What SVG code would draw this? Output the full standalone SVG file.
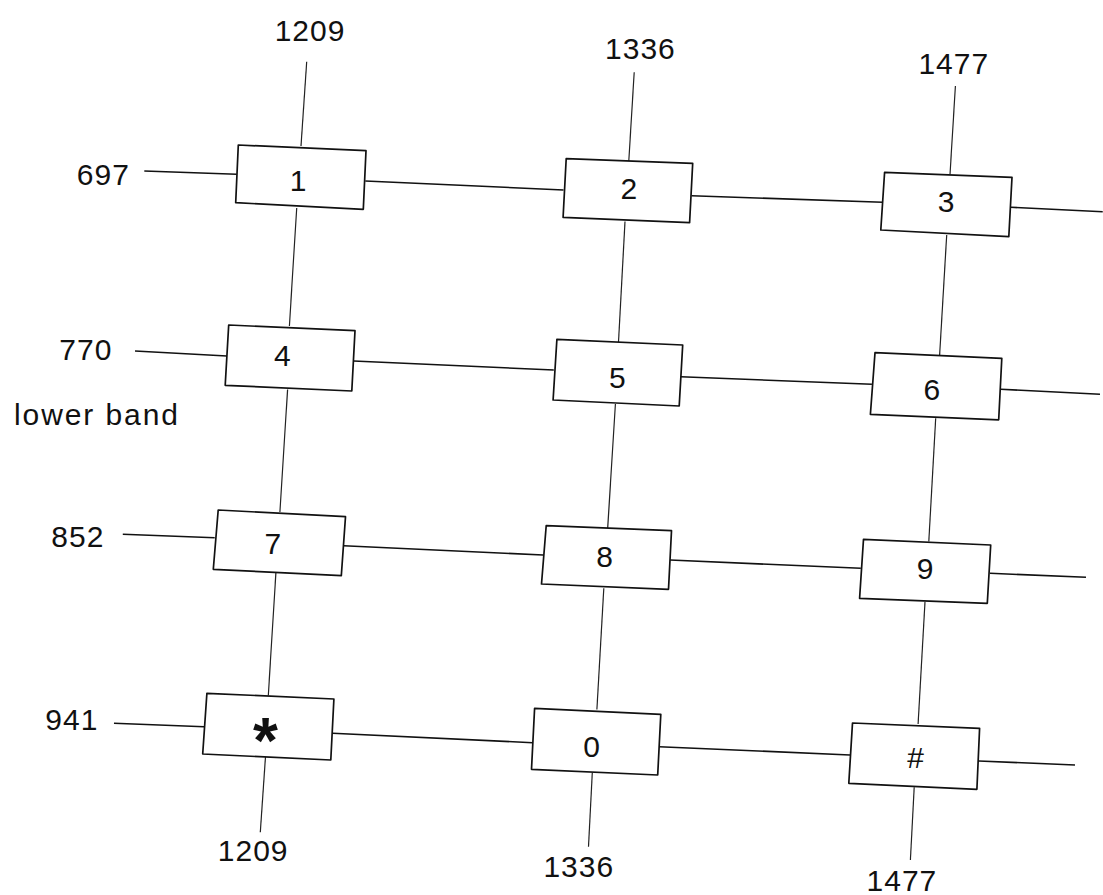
<svg xmlns="http://www.w3.org/2000/svg" width="1103" height="895" viewBox="0 0 1103 895">
<style>
.bg{fill:#ffffff}
.key{fill:#ffffff;stroke:#111;stroke-width:1.7;stroke-linejoin:round}
.h{stroke:#111;stroke-width:1.6;fill:none}
.v{stroke:#222;stroke-width:1.2;fill:none}
.t{font-family:"Liberation Sans",Arial,sans-serif;font-size:30px;fill:#111;text-anchor:middle}
.lbl{font-family:"Liberation Sans",Arial,sans-serif;font-size:30px;fill:#111;text-anchor:middle;letter-spacing:1px}
</style>
<rect class="bg" x="0" y="0" width="1103" height="895"/>
<g id="connectors">
<line class="h" x1="144.3" y1="171" x2="236.7" y2="174.3"/>
<line class="h" x1="365.3" y1="181" x2="563.5" y2="190"/>
<line class="h" x1="691.5" y1="195.7" x2="882.7" y2="202.3"/>
<line class="h" x1="1011" y1="207.3" x2="1102.7" y2="211.7"/>
<line class="h" x1="135" y1="351" x2="226.9" y2="356"/>
<line class="h" x1="353.6" y1="361" x2="553.8" y2="370"/>
<line class="h" x1="680.8" y1="376.7" x2="871.9" y2="384.3"/>
<line class="h" x1="1000.7" y1="389.3" x2="1100" y2="394.3"/>
<line class="h" x1="122.8" y1="534.3" x2="214.7" y2="537.7"/>
<line class="h" x1="343.7" y1="545.7" x2="543.1" y2="555"/>
<line class="h" x1="670" y1="560" x2="860.8" y2="568.3"/>
<line class="h" x1="990" y1="573.3" x2="1086" y2="577.3"/>
<line class="h" x1="114" y1="723.3" x2="204.1" y2="726.7"/>
<line class="h" x1="332.5" y1="733.3" x2="532.7" y2="742.7"/>
<line class="h" x1="659.2" y1="746.7" x2="850" y2="755"/>
<line class="h" x1="978.8" y1="761" x2="1075" y2="765"/>
<line class="v" x1="306.7" y1="61.7" x2="301" y2="146"/>
<line class="v" x1="296.7" y1="208" x2="289.4" y2="326"/>
<line class="v" x1="287.6" y1="389.5" x2="279.9" y2="512"/>
<line class="v" x1="276" y1="571" x2="268.3" y2="695.5"/>
<line class="v" x1="265.5" y1="756.5" x2="260.3" y2="832.3"/>
<line class="v" x1="634.2" y1="72.3" x2="628.8" y2="161"/>
<line class="v" x1="625" y1="221.5" x2="618.5" y2="342"/>
<line class="v" x1="615.4" y1="404" x2="607.7" y2="528"/>
<line class="v" x1="603.8" y1="588.3" x2="596.9" y2="709.5"/>
<line class="v" x1="592.3" y1="772.5" x2="588.5" y2="846.7"/>
<line class="v" x1="955.4" y1="86" x2="950" y2="174.5"/>
<line class="v" x1="946.7" y1="235" x2="939.6" y2="355.5"/>
<line class="v" x1="935.7" y1="418.3" x2="928.8" y2="541.5"/>
<line class="v" x1="925" y1="601.7" x2="918.1" y2="724"/>
<line class="v" x1="914.2" y1="787.3" x2="910.4" y2="860"/>
</g>
<g id="labels">
<text class="lbl" x="310" y="40.7">1209</text>
<text class="lbl" x="640.4" y="59">1336</text>
<text class="lbl" x="953.8" y="74">1477</text>
<text class="lbl" x="103.3" y="185">697</text>
<text class="lbl" x="85.9" y="359.7">770</text>
<text class="lbl" x="14" y="425" style="text-anchor:start" textLength="165" lengthAdjust="spacing">lower band</text>
<text class="lbl" x="77.9" y="547.4">852</text>
<text class="lbl" x="71.9" y="730">941</text>
<text class="lbl" x="253.2" y="861.4">1209</text>
<text class="lbl" x="578.8" y="876.7">1336</text>
<text class="lbl" x="901.9" y="890.7">1477</text>
</g>
<g id="key-1">
<polygon class="key" points="238.3,145 366,150.7 363.3,209.3 235.7,202.7"/>
<text class="t" x="298" y="190.7">1</text>
</g>
<g id="key-2">
<polygon class="key" points="566.2,158.7 692.7,163.3 689.6,222.7 563.1,217.3"/>
<text class="t" x="628.8" y="199">2</text>
</g>
<g id="key-3">
<polygon class="key" points="884.6,172.3 1012,177.3 1008.8,236.7 880.8,230"/>
<text class="t" x="946" y="212.4">3</text>
</g>
<g id="key-4">
<polygon class="key" points="228.7,325 355,330.7 351.8,391 225.2,385.3"/>
<text class="t" x="282.4" y="365.7">4</text>
</g>
<g id="key-5">
<polygon class="key" points="556.9,339.3 682.7,345 679.2,406 553.1,400"/>
<text class="t" x="617.3" y="388.4">5</text>
</g>
<g id="key-6">
<polygon class="key" points="875,352.7 1001.8,358.3 998.7,419.8 870.4,414.3"/>
<text class="t" x="931.9" y="400">6</text>
</g>
<g id="key-7">
<polygon class="key" points="218.2,510 345.5,516.7 341.3,575.7 213.3,569.3"/>
<text class="t" x="272.9" y="554">7</text>
</g>
<g id="key-8">
<polygon class="key" points="546.2,525.7 671.5,530.7 668.5,589.3 541.5,584"/>
<text class="t" x="604.6" y="566.7">8</text>
</g>
<g id="key-9">
<polygon class="key" points="863.5,539.3 990.7,545 987.3,603.3 859.6,598.3"/>
<text class="t" x="925" y="579">9</text>
</g>
<g id="key-star">
<polygon class="key" points="206.9,693.3 333.9,699 330.8,760 202.7,754"/>
<text class="t" x="265.5" y="763" style="font-size:64px;font-weight:bold">*</text>
</g>
<g id="key-0">
<polygon class="key" points="534.6,708.3 660.8,714.3 657.7,775 531.5,769.3"/>
<text class="t" x="591.5" y="757.4">0</text>
</g>
<g id="key-hash">
<polygon class="key" points="852.5,723 979.6,728.3 976.9,789.3 848.8,783.3"/>
<text class="t" x="915" y="768" style="font-size:30px;font-style:italic">#</text>
</g>
</svg>
